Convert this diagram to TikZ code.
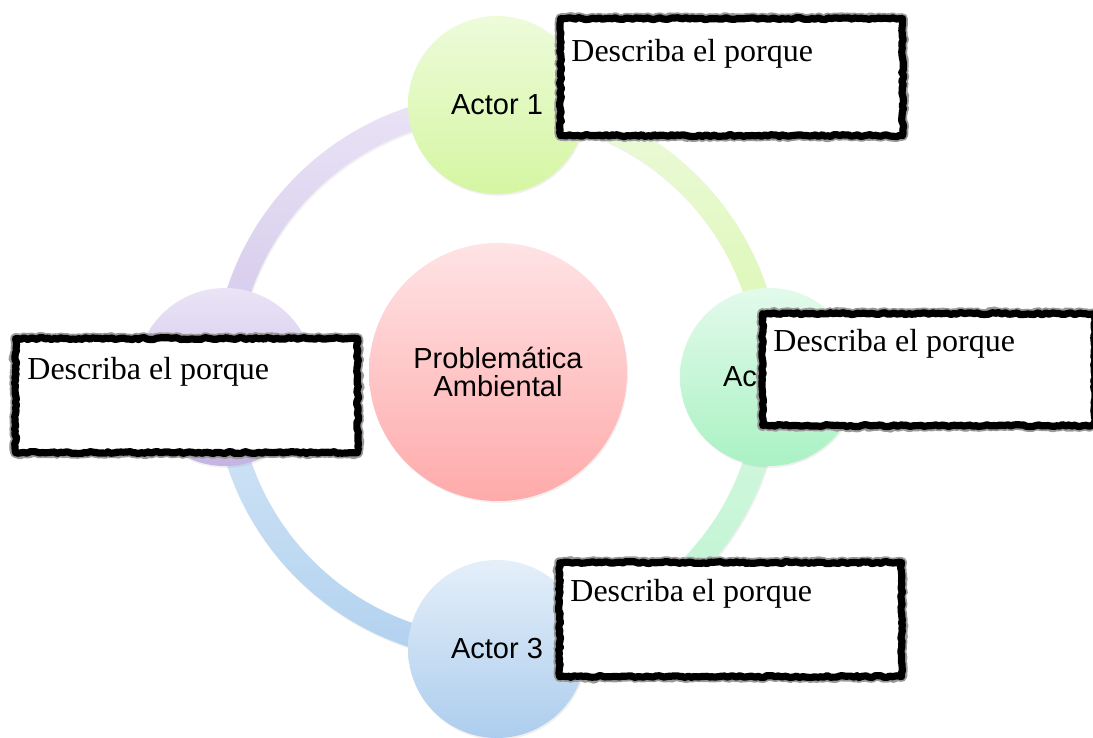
\documentclass[tikz,border=0pt]{standalone}
\usepackage{fontspec}
\setmainfont{Liberation Serif}
\setsansfont{Liberation Sans}
\usepackage{tikz}
\usetikzlibrary{positioning}
\usetikzlibrary{shapes,shadows,decorations.pathmorphing}

\definecolor{actAt}{HTML}{EDFBDA}
\definecolor{actAb}{HTML}{D5F6A2}
\definecolor{actBt}{HTML}{E3FAEB}
\definecolor{actBb}{HTML}{AAF2C4}
\definecolor{actCt}{HTML}{E4EFF9}
\definecolor{actCb}{HTML}{ADCDEE}
\definecolor{actDt}{HTML}{EAE4F6}
\definecolor{actDb}{HTML}{C4B3E4}
\definecolor{probt}{HTML}{FFE3E5}
\definecolor{probb}{HTML}{FFAAAA}
\definecolor{arcAt}{HTML}{EDFADC}
\definecolor{arcAb}{HTML}{D9F7AE}
\definecolor{arcBt}{HTML}{D6F8E2}
\definecolor{arcBb}{HTML}{BBF3CE}
\definecolor{arcCt}{HTML}{D6E7F7}
\definecolor{arcCb}{HTML}{B1D1EF}
\definecolor{arcDt}{HTML}{EAE4F6}
\definecolor{arcDb}{HTML}{D1C5EA}

\begin{document}
\begin{tikzpicture}[x=0.5pt,y=0.5pt,
    soft/.style={drop shadow={opacity=.12, shadow xshift=.5pt, shadow yshift=-.9pt}},
    actor/.style={circle, soft, minimum size=89pt, inner sep=0pt,
      font=\sffamily\fontsize{14.5}{14}\selectfont},
    problem/.style={circle, soft, minimum size=129pt, inner sep=0pt, align=center,
      font=\sffamily\fontsize{14.5}{14}\selectfont},
    roughbox/.style={draw, fill=white, line width=3.6pt, inner sep=0pt, anchor=north west,
      line join=round, line cap=round,
      decorate, decoration={random steps, segment length=1.5pt, amplitude=.5pt},
      preaction={draw, black!40, line width=5.4pt, line join=round, line cap=round, decorate,
        decoration={random steps, segment length=1.2pt, amplitude=.6pt}}},
    boxtext/.style={anchor=base west, inner sep=0pt, font=\rmfamily\fontsize{16}{19}\selectfont}
  ]
  \useasboundingbox (0,0) rectangle (1093,738);
  \coordinate (ring) at (497,361);

  \foreach \a/\tc/\bc in {0/arcAt/arcAb, 270/arcBt/arcBb, 180/arcCt/arcCb, 90/arcDt/arcDb}
    \shade[top color=\tc, bottom color=\bc, soft]
      ([shift={(\a:260)}]ring) arc[start angle=\a, delta angle=90, radius=260]
      -- ([shift={(\a+90:284)}]ring) arc[start angle=\a+90, delta angle=-90, radius=284]
      -- cycle;

  \node[actor, top color=actAt, bottom color=actAb] (actor1) at (497,633) {Actor 1};
  \node[actor, top color=actBt, bottom color=actBb] (actor2) at (769,361) {Actor 2};
  \node[actor, top color=actCt, bottom color=actCb] (actor3) at (497,89) {Actor 3};
  \node[actor, top color=actDt, bottom color=actDb] (actor4) at (225,361) {};
  \node[problem, top color=probt, bottom color=probb] (problema) at (498,366)
    {Problemática\\Ambiental};

  \node[roughbox, minimum width=171pt, minimum height=58.5pt] (box1) at (557,723) {};
  \node[roughbox, minimum width=166pt, minimum height=56pt] (box2) at (759,428) {};
  \node[roughbox, minimum width=171pt, minimum height=57pt] (box3) at (556,179) {};
  \node[roughbox, minimum width=171pt, minimum height=57pt] (box4) at (12,403) {};

  \node[boxtext] (why1) at ([xshift=7pt,yshift=-23.5pt]box1.north west) {Describa el porque};
  \node[boxtext] (why2) at ([xshift=7pt,yshift=-21pt]box2.north west) {Describa el porque};
  \node[boxtext] (why3) at ([xshift=7pt,yshift=-21.5pt]box3.north west) {Describa el porque};
  \node[boxtext] (why4) at ([xshift=7.5pt,yshift=-22.5pt]box4.north west) {Describa el porque};
\end{tikzpicture}
\end{document}
